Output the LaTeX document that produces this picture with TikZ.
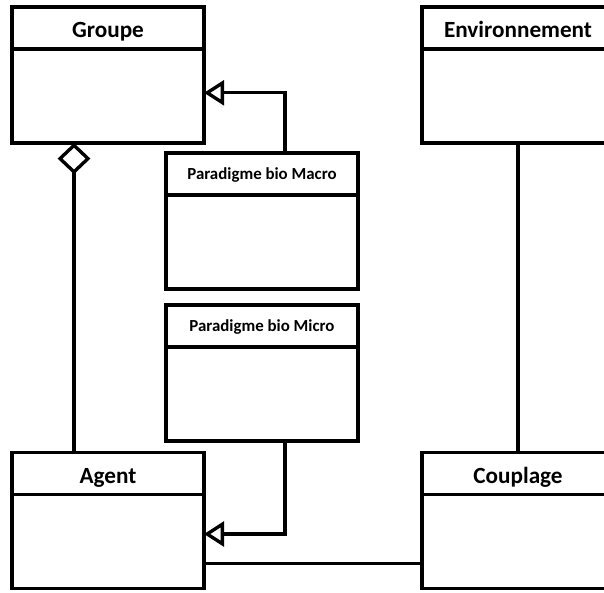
\documentclass[tikz,border=0pt]{standalone}
\usepackage{fontspec}
\setmainfont{Carlito}
\usetikzlibrary{arrows.meta,positioning}

\begin{document}
\begin{tikzpicture}[
	head/.style={draw, line width=2.4pt, outer sep=0pt, minimum width=4.8cm,
		minimum height=1.05cm, text height=14pt, text depth=0pt,
		font=\fontsize{16.5}{18}\selectfont\bfseries},
	smallhead/.style={head, text height=8.5pt, text depth=0.5pt,
		font=\fontsize{12}{14}\selectfont\bfseries},
	body/.style={draw, line width=2.4pt, outer sep=0pt, minimum width=4.8cm,
		minimum height=2.35cm},
	link/.style={line width=2.4pt},
	inherit/.style={link, -{Triangle[open, length=0.5cm, width=0.62cm]}},
	agg/.style={link, -{Diamond[open, length=0.78cm, width=0.82cm]}}
]
	\useasboundingbox (0,0) rectangle (15.1,-14.8);

	% Top classes
	\node[head] (groupe) at (2.7, -0.7) {Groupe};
	\node[body, below=0pt of groupe] (groupe-b) {};

	\node[head] (env) at (12.95, -0.7) {Environnement};
	\node[body, below=0pt of env] (env-b) {};

	% Paradigms
	\node[smallhead] (macro) at (6.55, -4.35) {Paradigme bio Macro};
	\node[body, below=0pt of macro] (macro-b) {};

	\node[smallhead] (micro) at (6.55, -8.15) {Paradigme bio Micro};
	\node[body, below=0pt of micro] (micro-b) {};

	% Bottom classes
	\node[head] (agent) at (2.7, -11.84) {Agent};
	\node[body, below=0pt of agent] (agent-b) {};

	\node[head] (couplage) at (12.95, -11.84) {Couplage};
	\node[body, below=0pt of couplage] (couplage-b) {};

	% Links
	\draw[inherit] ([xshift=0.575cm]macro.north) |- ([yshift=0.08cm]groupe-b.east);
	\draw[inherit] ([xshift=0.575cm]micro-b.south) |- ([yshift=0.19cm]agent-b.east);
	\draw[agg] ([xshift=-0.85cm]agent.north) -- ([xshift=-0.85cm]groupe-b.south);
	\draw[link] (env-b.south) -- (couplage.north);
	\draw[link] ([yshift=-0.55cm]agent-b.east) -- ([yshift=-0.55cm]couplage-b.west);
\end{tikzpicture}
\end{document}
